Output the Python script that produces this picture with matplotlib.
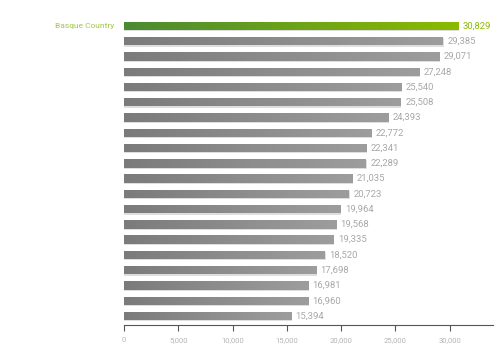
import numpy as np
import matplotlib.pyplot as plt
from matplotlib.colors import LinearSegmentedColormap

# values, top to bottom
values = [30829, 29385, 29071, 27248, 25540, 25508, 24393, 22772, 22341,
          22289, 21035, 20723, 19964, 19568, 19335, 18520, 17698, 16981,
          16960, 15394]
labels = ['Basque Country'] + [''] * (len(values) - 1)
xticks = [0, 5000, 10000, 15000, 20000, 25000, 30000]

plt.rcParams['font.family'] = ['Roboto', 'DejaVu Sans']

fig = plt.figure(figsize=(5.02, 3.56), dpi=100)
ax = fig.add_axes([124 / 502, 1 - 325 / 356, (493 - 124) / 502, (325 - 18) / 356])

gray_cm = LinearSegmentedColormap.from_list('g', ['#7b7b7b', '#9d9d9d'])
green_cm = LinearSegmentedColormap.from_list('gr', ['#4b8a32', '#8cba00'])
grad = np.linspace(0, 1, 256).reshape(1, -1)

h = 0.55
for i, v in enumerate(values):
    cm = green_cm if i == 0 else gray_cm
    # soft shadow under the bar
    ax.barh(i + 0.08, v + 60, height=h, left=0, color='#dedede', zorder=1)
    bar = ax.barh(i, v, height=h, color='none', zorder=2)[0]
    im = ax.imshow(grad, cmap=cm, aspect='auto', zorder=3,
                   extent=[0, v, i + h / 2, i - h / 2])
    im.set_clip_path(bar)
    col = '#8cba00' if i == 0 else '#a8a8a8'
    ax.text(v + 400, i, f'{v:,}', va='center', ha='left', fontsize=6.8,
            color=col)

ax.set_xlim(0, 34000)
ax.set_ylim(len(values) - 1 + 0.59, -0.52)
ax.set_yticks(range(len(values)))
ax.set_yticklabels(labels, fontsize=6, color='#a0c840')
ax.tick_params(axis='y', length=0, pad=7)
ax.set_xticks(xticks)
ax.set_xticklabels([f'{t:,}' for t in xticks], fontsize=5.5, color='#b4b4b4')
ax.tick_params(axis='x', length=4, width=0.8, color='#555555', pad=5)
for s in ['top', 'right', 'left']:
    ax.spines[s].set_visible(False)
ax.spines['bottom'].set_color('#555555')
ax.spines['bottom'].set_linewidth(0.8)

fig.savefig('out.png', dpi=100)
